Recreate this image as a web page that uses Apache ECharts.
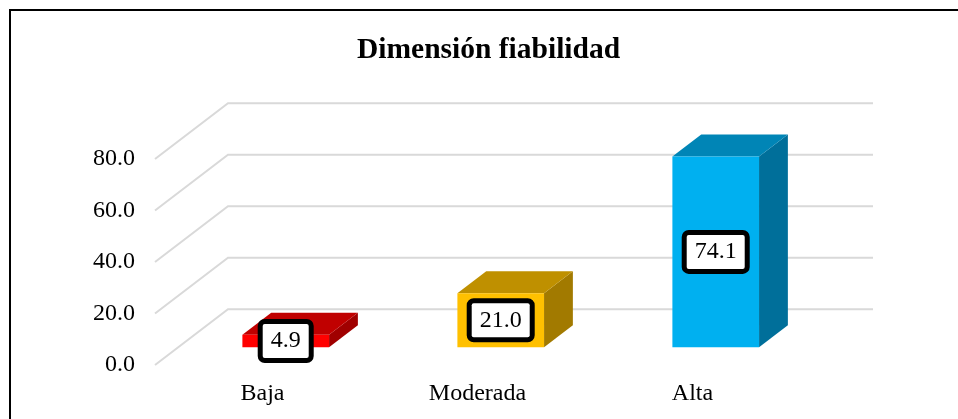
<!DOCTYPE html>
<html>
<head>
<meta charset="utf-8">
<style>
  html, body { margin: 0; padding: 0; background: #fff; }
  #chart { width: 958px; height: 419px; }
</style>
<script src="https://cdn.jsdelivr.net/npm/echarts@6/dist/echarts.min.js"></script>
</head>
<body>
<div id="chart"></div>
<script>
var categories = ['Baja', 'Moderada', 'Alta'];
var values = [4.9, 21.0, 74.1];
var yTicks = [0, 20, 40, 60, 80];

// colores de cada barra (frente, tapa, lateral)
var faceColors = [
  { front: '#FF0000', top: '#C00000', side: '#A00000' },
  { front: '#FFC000', top: '#BF9000', side: '#A27A00' },
  { front: '#00B0F0', top: '#0085B6', side: '#006F9A' }
];

// profundidad del suelo 3D (pixeles)
var DEPTH_X = 73, DEPTH_Y = -55.7;
// posicion de la cara frontal y trasera de las barras dentro de la profundidad
var FRONT_F = 0.318, BACK_F = 0.713;
var FONT = '"Liberation Serif", "Times New Roman", serif';

var chart = echarts.init(document.getElementById('chart'), null, { renderer: 'canvas' });

var barData = [];
for (var i = 0; i < categories.length; i++) {
  barData.push([i, values[i]]);
}
var gridData = [];
for (var j = 0; j < yTicks.length; j++) {
  gridData.push([0, yTicks[j]]);
}

function renderGridLine(params, api) {
  var p = api.coord([0, api.value(1)]);
  var cs = params.coordSys;
  return {
    type: 'polyline',
    shape: {
      points: [
        [cs.x, p[1]],
        [cs.x + DEPTH_X, p[1] + DEPTH_Y],
        [cs.x + cs.width + DEPTH_X, p[1] + DEPTH_Y]
      ]
    },
    style: { stroke: '#D9D9D9', lineWidth: 2, fill: null }
  };
}

function renderBar(params, api) {
  var idx = api.value(0);
  var val = api.value(1);
  var base = api.coord([idx, 0]);
  var topP = api.coord([idx, val]);
  var band = api.size([1, 0])[0];
  var w = band * 0.403;
  var fx = DEPTH_X * FRONT_F, fy = DEPTH_Y * FRONT_F;
  var dx = DEPTH_X * (BACK_F - FRONT_F), dy = DEPTH_Y * (BACK_F - FRONT_F);
  var x0 = base[0] + fx - w / 2;
  var x1 = x0 + w;
  var yb = base[1] + fy;
  var yt = topP[1] + fy;
  var c = faceColors[idx];
  return {
    type: 'group',
    children: [
      {
        type: 'polygon',
        shape: { points: [[x1, yb], [x1 + dx, yb + dy], [x1 + dx, yt + dy], [x1, yt]] },
        style: { fill: c.side }
      },
      {
        type: 'polygon',
        shape: { points: [[x0, yt], [x1, yt], [x1 + dx, yt + dy], [x0 + dx, yt + dy]] },
        style: { fill: c.top }
      },
      {
        type: 'rect',
        shape: { x: x0, y: yt, width: w, height: yb - yt },
        style: { fill: c.front }
      },
      {
        type: 'text',
        style: {
          text: val.toFixed(1),
          x: (x0 + x1) / 2,
          y: (yt + yb) / 2,
          textAlign: 'center',
          textVerticalAlign: 'middle',
          font: '24px ' + FONT,
          fill: '#000',
          backgroundColor: '#fff',
          borderColor: '#000',
          borderWidth: 5,
          borderRadius: 2,
          padding: [5, 8]
        }
      }
    ]
  };
}

var option = {
  animation: false,
  title: {
    text: 'Dimensión fiabilidad',
    left: 357,
    top: 35,
    padding: 0,
    textStyle: { fontFamily: FONT, fontSize: 29.5, fontWeight: 'bold', color: '#000' }
  },
  graphic: [
    {
      type: 'rect',
      shape: { x: 10, y: 10, width: 1000, height: 500 },
      style: { fill: null, stroke: '#000', lineWidth: 2 },
      silent: true
    }
  ],
  grid: { left: 155, right: 158, top: 159, bottom: 54 },
  xAxis: {
    type: 'category',
    data: categories,
    axisLine: { show: false },
    axisTick: { show: false },
    axisLabel: { margin: 17, fontFamily: FONT, fontSize: 24, color: '#000' }
  },
  yAxis: {
    type: 'value',
    min: 0,
    max: 80,
    interval: 20,
    axisLine: { show: false },
    axisTick: { show: false },
    splitLine: { show: false },
    axisLabel: {
      margin: 20,
      fontFamily: FONT,
      fontSize: 24,
      color: '#000',
      formatter: function (v) { return v.toFixed(1); }
    }
  },
  series: [
    {
      type: 'custom',
      name: 'grid',
      renderItem: renderGridLine,
      data: gridData,
      encode: { x: 0, y: 1 },
      silent: true,
      z: 1
    },
    {
      type: 'custom',
      name: 'Dimensión fiabilidad',
      renderItem: renderBar,
      data: barData,
      encode: { x: 0, y: 1 },
      z: 2
    }
  ]
};

chart.setOption(option);
window.addEventListener('resize', chart.resize);
</script>
</body>
</html>
